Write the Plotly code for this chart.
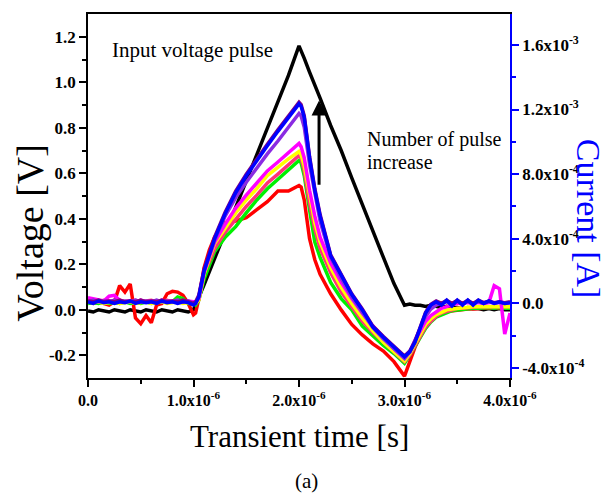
import numpy as np
import plotly.graph_objects as go

# time grid in microseconds
t_us = [0.0, 0.05, 0.1, 0.15, 0.2, 0.25, 0.3, 0.35, 0.4, 0.45, 0.5, 0.55, 0.6, 0.65, 0.7, 0.75, 0.8, 0.85, 0.9, 0.95,
        1.0, 1.02, 1.05, 1.1, 1.15, 1.2,
        1.3, 1.4, 1.5, 1.6, 1.7, 1.8, 1.9, 2.0,
        2.02, 2.05, 2.1, 2.15, 2.2,
        2.3, 2.4, 2.5, 2.6, 2.7, 2.8, 2.9, 3.0,
        3.05, 3.1, 3.15, 3.2, 3.25, 3.3, 3.35, 3.4, 3.45, 3.5, 3.55, 3.6, 3.65, 3.7, 3.75, 3.8, 3.85, 3.9, 3.95, 4.0]

# input voltage pulse [V]
voltage = [-0.005, -0.01, 0.0, -0.005, -0.01, 0.0, -0.005, -0.01, 0.0, -0.005, -0.01, 0.0, -0.005, -0.01, 0.0, -0.005, -0.01, 0.0, -0.005, -0.01,
           0.0, 0.02, 0.055, 0.11, 0.17, 0.225,
           0.34, 0.45, 0.565, 0.68, 0.795, 0.91, 1.03, 1.16,
           1.14, 1.105, 1.045, 0.99, 0.93,
           0.81, 0.70, 0.58, 0.46, 0.345, 0.23, 0.115, 0.02,
           0.025, 0.02, 0.02, 0.015, 0.02, 0.015, 0.01, 0.015, 0.01, 0.01, 0.005, 0.01, 0.005, 0.005, 0.0, 0.005, 0.0, 0.005, 0.0, 0.0]

# currents in units of 1e-4 A
cur_red = [0.1, 0.0, 0.1, 0.0, -0.1, 0.1, 1.1, 0.7, 1.2, -0.9, -1.25, -0.75, -1.2, -0.1, 0.0, 0.6, 0.75, 0.7, 0.5, 0.0,
           -0.7, -0.6, 0.3, 2.2, 3.3, 4.1,
           5.0, 5.1, 5.3, 5.8, 6.3, 6.95, 6.95, 7.3,
           7.2, 6.4, 4.0, 2.7, 1.8,
           0.6, -0.4, -1.3, -1.95, -2.5, -2.95, -3.6, -4.5,
           -3.6, -2.7, -2.0, -1.45, -1.05, -0.8, -0.6, -0.5, -0.45, -0.4, -0.4, -0.35, -0.35, -0.3, -0.3, -0.3, -0.3, -0.25, -0.3, -0.3]
cur_green = [0.0, 0.05, 0.0, 0.1, 0.0, 0.05, 0.0, 0.1, 0.0, 0.05, 0.0, 0.1, 0.0, 0.05, 0.1, 0.05, 0.1, 0.4, 0.3, 0.0,
             0.0, -0.1, 0.2, 1.5, 2.4, 3.2,
             4.1, 4.75, 5.6, 6.4, 7.1, 7.7, 8.25, 8.85,
             8.7, 7.9, 5.8, 3.8, 2.85,
             1.3, 0.3, -0.4, -1.4, -2.0, -2.6, -3.1, -3.7,
             -3.2, -2.6, -2.1, -1.55, -1.15, -0.85, -0.7, -0.55, -0.45, -0.4, -0.35, -0.3, -0.3, -0.3, -0.25, -0.25, -0.3, -0.25, -0.3, -0.3]
cur_pink = [0.2, 0.15, 0.1, 0.2, 0.15, 0.1, 0.2, 0.1, 0.15, 0.2, 0.1, 0.15, 0.2, 0.1, 0.15, 0.2, 0.1, 0.15, 0.2, 0.1,
            0.0, 0.0, 0.2, 1.9, 2.6, 3.4,
            4.4, 5.2, 6.0, 6.7, 7.45, 8.0, 8.55, 9.15,
            9.0, 8.2, 6.2, 4.6, 3.4,
            1.9, 0.7, -0.2, -1.1, -1.8, -2.4, -3.0, -3.6,
            -3.2, -2.6, -2.0, -1.45, -1.1, -0.8, -0.6, -0.5, -0.4, -0.3, -0.3, -0.25, -0.25, -0.2, -0.2, -0.2, -0.2, -0.2, -0.15, -0.2]
cur_yellow = [0.1, 0.05, 0.1, 0.0, 0.05, 0.1, 0.0, 0.05, 0.1, 0.0, 0.05, 0.1, 0.0, 0.05, 0.1, 0.0, 0.05, 0.1, 0.0, 0.05,
              0.0, 0.0, 0.2, 1.8, 2.8, 3.7,
              4.65, 5.6, 6.4, 7.1, 7.9, 8.45, 8.95, 9.4,
              9.2, 8.5, 6.6, 5.0, 3.8,
              2.2, 1.0, 0.0, -0.9, -1.7, -2.4, -3.0, -3.55,
              -3.1, -2.5, -1.9, -1.3, -0.95, -0.7, -0.55, -0.4, -0.35, -0.3, -0.25, -0.25, -0.2, -0.2, -0.2, -0.2, -0.15, -0.2, -0.15, -0.2]
cur_magenta = [0.35, 0.3, 0.2, 0.15, 0.45, 0.5, 0.2, 0.1, 0.15, 0.1, 0.2, 0.1, 0.15, 0.1, 0.2, 0.1, 0.15, 0.2, 0.1, 0.15,
               0.1, 0.1, 0.3, 1.9, 2.9, 3.8,
               4.9, 5.9, 6.7, 7.45, 8.2, 8.75, 9.3, 9.9,
               9.7, 9.0, 7.0, 5.4, 4.1,
               2.5, 1.3, 0.3, -0.6, -1.4, -2.1, -2.8, -3.4,
               -3.0, -2.3, -1.7, -1.1, -0.75, -0.5, -0.3, -0.2, -0.1, 0.0, 0.0, 0.05, 0.0, 0.05, 0.0, 0.05, 1.1, 0.9, -1.9, -0.6]
cur_violet = [0.1, 0.2, 0.1, 0.15, 0.1, 0.2, 0.1, 0.15, 0.1, 0.2, 0.1, 0.15, 0.1, 0.2, 0.1, 0.15, 0.1, 0.2, 0.1, 0.15,
              0.0, 0.0, 0.4, 2.0, 2.95, 3.9,
              5.4, 6.55, 7.5, 8.4, 9.25, 10.05, 10.9, 11.75,
              11.6, 10.9, 8.6, 6.7, 5.1,
              2.85, 1.55, 0.4, -0.55, -1.5, -2.2, -2.8, -3.4,
              -3.0, -2.3, -1.5, -0.8, -0.35, -0.1, 0.0, 0.1, 0.0, 0.1, 0.0, 0.1, 0.0, 0.1, 0.0, 0.1, 0.0, 0.05, 0.0, 0.05]
cur_purple = [0.15, 0.1, 0.2, 0.1, 0.15, 0.1, 0.2, 0.1, 0.15, 0.1, 0.2, 0.1, 0.15, 0.1, 0.2, 0.1, 0.15, 0.1, 0.2, 0.1,
              0.0, 0.1, 0.5, 2.1, 3.1, 4.1,
              5.65, 6.95, 8.0, 8.95, 9.85, 10.75, 11.6, 12.45,
              12.3, 11.6, 9.1, 7.1, 5.5,
              3.0, 1.8, 0.6, -0.35, -1.4, -2.05, -2.65, -3.25,
              -2.95, -2.35, -1.45, -0.55, -0.05, 0.15, 0.0, 0.2, 0.0, 0.2, 0.0, 0.2, 0.0, 0.2, 0.05, 0.15, 0.05, 0.1, 0.05, 0.1]
cur_blue = [0.1, 0.0, 0.15, 0.05, 0.1, 0.0, 0.1, 0.05, 0.15, 0.0, 0.1, 0.05, 0.1, 0.0, 0.15, 0.05, 0.1, 0.0, 0.1, 0.05,
            -0.1, 0.0, 0.4, 2.0, 3.0, 4.0,
            5.55, 6.85, 7.9, 8.85, 9.75, 10.65, 11.5, 12.35,
            12.2, 11.5, 9.0, 7.0, 5.4,
            2.95, 1.75, 0.55, -0.4, -1.45, -2.1, -2.7, -3.3,
            -3.0, -2.4, -1.5, -0.6, -0.1, 0.1, -0.1, 0.2, -0.15, 0.2, -0.1, 0.2, -0.1, 0.2, 0.0, 0.15, 0.0, 0.1, 0.0, 0.05]

current_series = [
    ("red", cur_red, "#ff0000"),
    ("green", cur_green, "#00f000"),
    ("pink", cur_pink, "#ff3377"),
    ("yellow", cur_yellow, "#ffff00"),
    ("magenta", cur_magenta, "#ff00ff"),
    ("violet", cur_violet, "#8a2be2"),
    ("purple", cur_purple, "#800080"),
    ("blue", cur_blue, "#0000ff"),
]

x_tickvals = [0, 1e-6, 2e-6, 3e-6, 4e-6]
x_ticktext = ["0.0", "1.0x10<sup>-6</sup>", "2.0x10<sup>-6</sup>", "3.0x10<sup>-6</sup>", "4.0x10<sup>-6</sup>"]
y_tickvals = [-0.2, 0.0, 0.2, 0.4, 0.6, 0.8, 1.0, 1.2]
y_ticktext = ["-0.2", "0.0", "0.2", "0.4", "0.6", "0.8", "1.0", "1.2"]
y2_tickvals = [-4e-4, 0.0, 4e-4, 8e-4, 1.2e-3, 1.6e-3]
y2_ticktext = ["-4.0x10<sup>-4</sup>", "0.0", "4.0x10<sup>-4</sup>", "8.0x10<sup>-4</sup>",
               "1.2x10<sup>-3</sup>", "1.6x10<sup>-3</sup>"]

t_s = np.array(t_us) * 1e-6

fig = go.Figure()
fig.add_trace(go.Scatter(x=t_s, y=voltage, mode="lines", line=dict(color="black", width=3.5),
                         yaxis="y", showlegend=False))
for name, vals, col in current_series:
    fig.add_trace(go.Scatter(x=t_s, y=np.array(vals) * 1e-4, mode="lines", name=name,
                             line=dict(color=col, width=3.5), yaxis="y2", showlegend=False))

serif = "Liberation Serif"
tickfont = dict(family=serif, size=17, color="black", weight="bold")

fig.update_layout(
    width=604, height=488,
    margin=dict(l=80, r=102, t=4, b=118),
    paper_bgcolor="white", plot_bgcolor="white",
    showlegend=False,
    xaxis=dict(range=[0, 4e-6], tickmode="array", tickvals=x_tickvals, ticktext=x_ticktext,
               showgrid=False, zeroline=False, showline=True, linecolor="black", linewidth=1.5,
               mirror=True, ticks="outside", ticklen=7, tickwidth=1.5, tickcolor="black",
               tickfont=dict(family=serif, size=16, color="black", weight="bold"),
               minor=dict(tickmode="array", tickvals=[0.5e-6, 1.5e-6, 2.5e-6, 3.5e-6],
                          ticks="outside", ticklen=4, tickwidth=1.5, tickcolor="black", showgrid=False)),
    yaxis=dict(range=[-0.3, 1.3], tickmode="array", tickvals=y_tickvals, ticktext=y_ticktext,
               showgrid=False, zeroline=False, showline=True, linecolor="black", linewidth=1.5,
               ticks="outside", ticklen=7, tickwidth=1.5, tickcolor="black", tickfont=tickfont,
               minor=dict(tickmode="array", tickvals=[-0.1, 0.1, 0.3, 0.5, 0.7, 0.9, 1.1],
                          ticks="outside", ticklen=4, tickwidth=1.5, tickcolor="black", showgrid=False)),
    yaxis2=dict(range=[-4.615e-4, 1.791e-3], overlaying="y", side="right", tickmode="array",
                tickvals=y2_tickvals, ticktext=y2_ticktext,
                showgrid=False, zeroline=False, showline=True, linecolor="#0000ff", linewidth=1.5,
                ticks="outside", ticklen=7, tickwidth=1.5, tickcolor="#0000ff", tickfont=tickfont,
                minor=dict(tickmode="array", tickvals=[-2e-4, 2e-4, 6e-4, 1.0e-3, 1.4e-3],
                           ticks="outside", ticklen=4, tickwidth=1.5, tickcolor="#0000ff", showgrid=False)),
)

annos = [
    dict(text="Voltage [V]", xref="paper", yref="paper", x=-0.1375, y=0.399, textangle=-90,
         font=dict(family=serif, size=38, color="black"), showarrow=False, xanchor="center", yanchor="middle"),
    dict(text="Current [A]", xref="paper", yref="paper", x=1.185, y=0.437, textangle=90,
         font=dict(family=serif, size=34, color="#0000ff"), showarrow=False, xanchor="center", yanchor="middle"),
    dict(text="Transient time [s]", xref="paper", yref="paper", x=0.502, y=-0.161,
         font=dict(family=serif, size=31, color="black"), showarrow=False, xanchor="center", yanchor="middle"),
    dict(text="(a)", xref="paper", yref="paper", x=0.517, y=-0.284,
         font=dict(family=serif, size=21, color="black"), showarrow=False, xanchor="center", yanchor="middle"),
    dict(text="Input voltage pulse", xref="paper", yref="paper", x=0.052, y=0.902,
         font=dict(family=serif, size=21, color="black"), showarrow=False, xanchor="left", yanchor="middle"),
    dict(text="Number of pulse", xref="paper", yref="paper", x=0.656, y=0.656,
         font=dict(family=serif, size=20, color="black"), showarrow=False, xanchor="left", yanchor="middle"),
    dict(text="increase", xref="paper", yref="paper", x=0.656, y=0.593,
         font=dict(family=serif, size=20, color="black"), showarrow=False, xanchor="left", yanchor="middle"),
    dict(text="", xref="x", yref="y", x=2.19e-6, y=0.92, axref="x", ayref="y", ax=2.19e-6, ay=0.543,
         showarrow=True, arrowhead=2, arrowsize=1, arrowwidth=3, arrowcolor="black"),
]
fig.update_layout(annotations=annos)

fig.write_html("out.html")
